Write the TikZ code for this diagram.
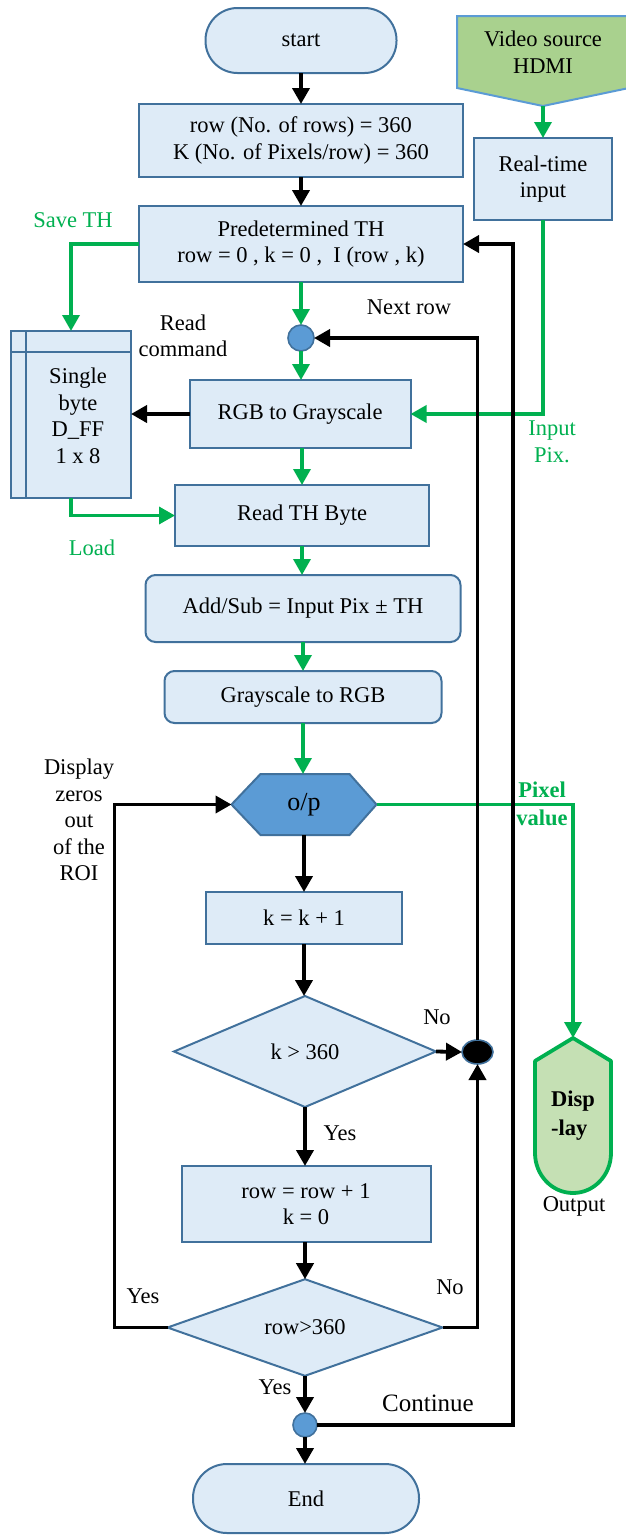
\documentclass[tikz,border=0pt]{standalone}
\usepackage{fontspec}
\setmainfont{Liberation Serif}
\usetikzlibrary{arrows.meta,shapes.geometric,calc,backgrounds}
\definecolor{boxfill}{HTML}{DEEBF7}
\definecolor{boxline}{HTML}{41719C}
\definecolor{accent}{HTML}{5B9BD5}
\definecolor{flowgreen}{HTML}{00B050}
\definecolor{srcgreen}{HTML}{A9D18E}
\definecolor{dispgreen}{HTML}{C5E0B4}

\begin{document}
\begin{tikzpicture}[x=1pt,y=-1pt,
  every node/.style={font=\fontsize{22.5}{26.5}\selectfont, inner sep=0pt, outer sep=0pt},
  proc/.style={rectangle, draw=boxline, fill=boxfill, line width=2pt, align=center},
  rproc/.style={proc, rounded corners=10pt},
  term/.style={proc, rounded corners=#1},
  dec/.style={diamond, draw=boxline, fill=boxfill, line width=2pt, align=center},
  junc/.style={circle, draw=boxline, fill=accent, line width=1.6pt, minimum size=#1},
  blk/.style={line width=3.8pt, -{Triangle[length=16pt,width=17pt]}},
  grn/.style={line width=3.5pt, draw=flowgreen, -{Triangle[length=16pt,width=17pt]}},
  lbl/.style={align=center},
  glbl/.style={align=center, text=flowgreen},
]
\useasboundingbox (0,0) rectangle (625,1535);

% ---------- main column ----------
\node[term=32pt, minimum width=191pt, minimum height=65pt] (start) at (301,40.5) {start};
\node[proc, minimum width=324pt, minimum height=73pt] (init) at (301,140.5)
  {row (No. of rows) = 360\\K (No. of Pixels/row) = 360};
\node[proc, minimum width=324pt, minimum height=76pt] (th) at (301,244)
  {Predetermined TH\\row = 0 , k = 0 ,\ \ I (row , k)};
\node[junc=26pt] (j1) at (301,338) {};
\node[proc, minimum width=221pt, minimum height=68pt] (rgb) at (300,414) {RGB to Grayscale};
\node[proc, minimum width=254pt, minimum height=61pt] (readth) at (302,515.5) {Read TH Byte};
\node[rproc, minimum width=315pt, minimum height=67pt] (addsub) at (303,608.5)
  {Add/Sub = Input Pix ± TH};
\node[rproc, minimum width=277pt, minimum height=52pt] (g2r) at (303,697) {Grayscale to RGB};
\node[minimum width=145pt, minimum height=61pt, font=\fontsize{26}{30}\selectfont] (op) at (304,804.5) {o/p};
\node[proc, minimum width=196pt, minimum height=52pt] (kinc) at (304,918) {k = k + 1};
\node[dec, minimum width=262pt, minimum height=111pt] (d1) at (305,1051.5) {k > 360};
\node[proc, minimum width=249pt, minimum height=76pt] (rowinc) at (306,1204)
  {row = row + 1\\k = 0};
\node[dec, minimum width=275pt, minimum height=93pt] (d2) at (305,1327.5) {row>360};
\node[junc=24pt] (j2) at (305,1425) {};
\node[term=34pt, minimum width=226pt, minimum height=69pt] (end) at (306,1498.5) {End};

% ---------- side blocks ----------
\node[proc, minimum width=120pt, minimum height=167pt] (dff) at (71,414.5) {};
\draw[boxline, line width=2pt] ($(dff.north west)+(15,0)$) -- ($(dff.south west)+(15,0)$);
\draw[boxline, line width=2pt] ($(dff.north west)+(0,21)$) -- ($(dff.north east)+(0,21)$);
\node[align=center] (dfftext) at (78,416) {Single\\byte\\D\_FF\\1 x 8};

\node[minimum width=172pt, minimum height=72pt, align=center] (vid) at (543,52) {Video source\\HDMI};
\coordinate (vidtip) at (543,106);
\node[proc, minimum width=138pt, minimum height=82pt] (rt) at (543,179) {Real-time\\input};

\node[ellipse, draw=boxline, fill=black, line width=1.6pt, minimum width=31pt, minimum height=24pt] (jb) at (477.5,1052) {};

\node[minimum width=76pt, minimum height=155pt, align=left, font=\fontsize{22.5}{29}\selectfont\bfseries] (disp) at (573,1115.5) {Disp\\-lay};

% ---------- shapes drawn behind their texts ----------
\begin{scope}[on background layer]
  \draw[boxline, fill=accent, line width=2pt]
    (op.west) -- ($(op.north west)+(29,0)$) -- ($(op.north east)+(-27,0)$) -- (op.east)
    -- ($(op.south east)+(-27,0)$) -- ($(op.south west)+(29,0)$) -- cycle;
  \draw[accent, fill=srcgreen, line width=2pt]
    (vid.north west) -- (vid.north east) -- (vid.south east) -- (vidtip) -- (vid.south west) -- cycle;
  \draw[flowgreen, fill=dispgreen, line width=3.8pt, line join=round]
    (disp.north) -- (535,1061) -- (535,1153) arc[start angle=180, end angle=0, x radius=38, y radius=40]
    -- (611,1061) -- cycle;
\end{scope}

% ---------- main flow ----------
\draw[blk] (start.south) -- (start.south |- init.north);
\draw[blk] (init.south) -- (init.south |- th.north);
\draw[grn] (th.south) -- (th.south |- j1.north);
\draw[grn] (j1.south) -- (j1.south |- rgb.north);
\draw[grn] (rgb.south -| readth.north) -- (readth.north);
\draw[grn] (readth.south) -- (readth.south |- addsub.north);
\draw[grn] (addsub.south) -- (addsub.south |- g2r.north);
\draw[grn] (g2r.south) -- (g2r.south |- op.north);
\draw[blk] (op.south) -- (op.south |- kinc.north);
\draw[blk] (kinc.south) -- (kinc.south |- d1.north);
\draw[blk] (d1.south) -- (d1.south |- rowinc.north);
\draw[blk] (rowinc.south -| d2.north) -- (d2.north);
\draw[blk] (d2.south) -- (d2.south |- j2.north);
\draw[blk] (j2.south) -- (j2.south |- end.north);

% ---------- side connectors ----------
\draw[grn] (th.west) -| (dff.north);
\draw[grn] (dff.south) |- (readth.west);
\draw[blk] (rgb.west) -- (rgb.west -| dff.east);
\draw[grn] (vidtip) -- (rt.north);
\draw[grn] (rt.south) |- (rgb.east);
\draw[grn] (op.east) -| (disp.north);

\draw[blk] (d1.east) -- (jb.west);
\draw[blk] (d2.east) -| (jb.south);
\draw[blk] (jb.north) |- (j1.east);
\coordinate (leftrun) at (114.5,1327.5);
\draw[blk] (d2.west) -- (leftrun) |- (op.west);
\coordinate (contrun) at (513,1425);
\draw[blk] (j2.east) -- (contrun) |- (th.east);

% ---------- labels ----------
\node[glbl] (lsave) at (73,220) {Save TH};
\node[lbl] (lread) at (183,336) {Read\\command};
\node[lbl] (lnext) at (409,307) {Next row};
\node[glbl] (linput) at (552,442) {Input\\Pix.};
\node[glbl] (lload) at (92,548) {Load};
\node[glbl, font=\fontsize{22.5}{28}\selectfont\bfseries] (lpix) at (542,804) {Pixel\\value};
\node[lbl] (lzero) at (79,820) {Display\\zeros\\out\\of the\\ROI};
\node[lbl] (lno1) at (437,1017) {No};
\node[lbl] (lyes1) at (340,1133) {Yes};
\node[lbl] (lout) at (574,1206) {Output};
\node[lbl] (lyes2) at (143,1296) {Yes};
\node[lbl] (lno2) at (450,1287) {No};
\node[lbl] (lyes3) at (275,1387) {Yes};
\node[lbl, font=\fontsize{25}{30}\selectfont] (lcont) at (428,1403) {Continue};
\end{tikzpicture}
\end{document}
